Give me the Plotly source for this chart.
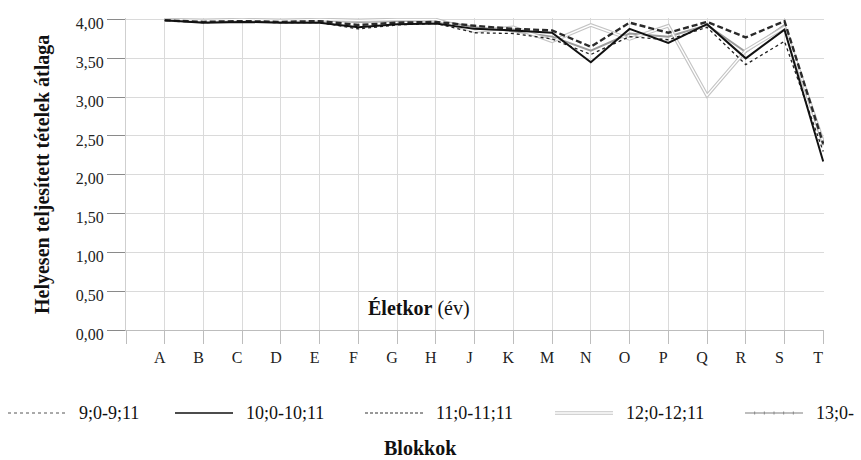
import plotly.graph_objects as go

# Test blocks on the category axis (a blank slot sits before the first block)
blocks = ["A", "B", "C", "D", "E", "F", "G", "H", "J", "K",
          "M", "N", "O", "P", "Q", "R", "S", "T"]

# Mean number of fully correct items per block, by age group
age_9 = [3.99, 3.96, 3.97, 3.96, 3.96, 3.88, 3.93, 3.95, 3.83, 3.82,
         3.75, 3.55, 3.78, 3.74, 3.90, 3.42, 3.72, 2.30]
age_10 = [3.99, 3.96, 3.97, 3.96, 3.96, 3.90, 3.94, 3.95, 3.88, 3.86,
          3.83, 3.45, 3.88, 3.70, 3.94, 3.50, 3.87, 2.17]
age_11 = [3.99, 3.97, 3.98, 3.97, 3.98, 3.93, 3.96, 3.97, 3.92, 3.88,
          3.86, 3.65, 3.96, 3.83, 3.97, 3.77, 3.98, 2.40]
age_12 = [4.00, 3.99, 4.00, 3.99, 4.00, 3.99, 4.00, 4.00, 3.85, 3.90,
          3.72, 3.93, 3.75, 3.92, 3.02, 3.60, 3.90, 2.42]
age_13 = [4.00, 3.98, 3.99, 3.98, 3.99, 3.97, 3.98, 3.99, 3.90, 3.85,
          3.78, 3.60, 3.82, 3.78, 3.93, 3.58, 3.93, 2.38]

group_names = ["9;0-9;11", "10;0-10;11", "11;0-11;11", "12;0-12;11", "13;0-"]

y_tick_vals = [0.0, 0.5, 1.0, 1.5, 2.0, 2.5, 3.0, 3.5, 4.0]
y_tick_text = ["0,00", "0,50", "1,00", "1,50", "2,00", "2,50", "3,00", "3,50", "4,00"]

FONT = "Liberation Serif"
W, H = 861, 460
L, R, T, B = 126, 37, 18, 130
PW, PH = W - L - R, H - T - B


def px_x(x):
    return (x - L) / PW


def px_y(y):
    return (H - B - y) / PH


cats = [" "] + blocks
fig = go.Figure()

# 13;0- : grey line
fig.add_trace(go.Scatter(x=blocks, y=age_13, mode="lines", name=group_names[4],
                         line=dict(color="#9c9c9c", width=2), showlegend=False))
# 12;0-12;11 : double light-grey line (wide grey stroke with a white core)
fig.add_trace(go.Scatter(x=blocks, y=age_12, mode="lines", name=group_names[3],
                         line=dict(color="#c4c4c4", width=3.6), showlegend=False))
fig.add_trace(go.Scatter(x=blocks, y=age_12, mode="lines", name=group_names[3],
                         line=dict(color="#ffffff", width=1.4), showlegend=False,
                         hoverinfo="skip"))
# 9;0-9;11 : dotted
fig.add_trace(go.Scatter(x=blocks, y=age_9, mode="lines", name=group_names[0],
                         line=dict(color="#222222", width=1.3, dash="dot"),
                         showlegend=False))
# 11;0-11;11 : dashed
fig.add_trace(go.Scatter(x=blocks, y=age_11, mode="lines", name=group_names[2],
                         line=dict(color="#2a2a2a", width=2.4, dash="6px,3px"),
                         showlegend=False))
# 10;0-10;11 : solid black
fig.add_trace(go.Scatter(x=blocks, y=age_10, mode="lines", name=group_names[1],
                         line=dict(color="#111111", width=2), showlegend=False))

fig.update_xaxes(
    type="category", categoryorder="array", categoryarray=cats,
    range=[0, len(blocks) + 0.02],
    showgrid=True, gridcolor="#dadada", gridwidth=1,
    showline=True, linecolor="#bdbdbd", linewidth=1.2,
    ticks="outside", ticklen=13, tickcolor="#bdbdbd", tickwidth=1,
    tickfont=dict(family=FONT, size=16, color="#222"),
    ticklabelshift=-5, zeroline=False, fixedrange=True,
)
fig.update_yaxes(
    range=[0, 4.02], tickvals=y_tick_vals, ticktext=y_tick_text,
    showgrid=True, gridcolor="#dadada", gridwidth=1,
    showline=True, linecolor="#cfcfcf", linewidth=1,
    ticks="outside", ticklen=18, tickcolor="#8a8a8a", tickwidth=1,
    tickfont=dict(family=FONT, size=16, color="#222"),
    ticklabelshift=4, ticklabelstandoff=0, zeroline=False, fixedrange=True,
)

annotations = [
    dict(text="<b>Helyesen teljesített tételek átlaga</b>", textangle=-90,
         x=px_x(42), y=px_y(175), xref="paper", yref="paper",
         xanchor="center", yanchor="middle",
         showarrow=False, font=dict(family=FONT, size=20, color="#111")),
    dict(text="<b>Életkor</b> (év)", x=px_x(419), y=px_y(308),
         xref="paper", yref="paper", xanchor="center", yanchor="middle",
         showarrow=False, font=dict(family=FONT, size=20, color="#111")),
    dict(text="<b>Blokkok</b>", x=px_x(420), y=px_y(448),
         xref="paper", yref="paper", xanchor="center", yanchor="middle",
         showarrow=False, font=dict(family=FONT, size=20, color="#111")),
]

# Legend along the bottom, drawn with line shapes and text labels
legend_y = 413
legend_x0 = [8, 175, 365, 555, 745]
seg = 58
shapes = []
legend_styles = [
    [dict(color="#555555", width=1, dash="dot")],
    [dict(color="#111111", width=1.6)],
    [dict(color="#333333", width=1, dash="3px,2px")],
    [dict(color="#c4c4c4", width=3.6), dict(color="#ffffff", width=1.4)],
    [dict(color="#a8a8a8", width=1.6)],
]
for x0, styles, name in zip(legend_x0, legend_styles, group_names):
    for st in styles:
        shapes.append(dict(type="line", xref="paper", yref="paper",
                           x0=px_x(x0), x1=px_x(x0 + seg),
                           y0=px_y(legend_y), y1=px_y(legend_y), line=st))
    annotations.append(dict(text=name, x=px_x(x0 + seg + 11), y=px_y(legend_y),
                            xref="paper", yref="paper", xanchor="left",
                            yanchor="middle", showarrow=False,
                            font=dict(family=FONT, size=18, color="#111")))

# small tick marks on the 13;0- legend sample
for k in range(1, 6):
    xx = 745 + k * seg / 6
    shapes.append(dict(type="line", xref="paper", yref="paper",
                       x0=px_x(xx), x1=px_x(xx),
                       y0=px_y(legend_y - 1.5), y1=px_y(legend_y + 1.5),
                       line=dict(color="#888888", width=1)))

fig.update_layout(
    width=W, height=H,
    margin=dict(l=L, r=R, t=T, b=B),
    paper_bgcolor="white", plot_bgcolor="white",
    showlegend=False,
    annotations=annotations, shapes=shapes,
    font=dict(family=FONT, color="#111"),
)

fig.write_html("out.html", config={"displayModeBar": False})
